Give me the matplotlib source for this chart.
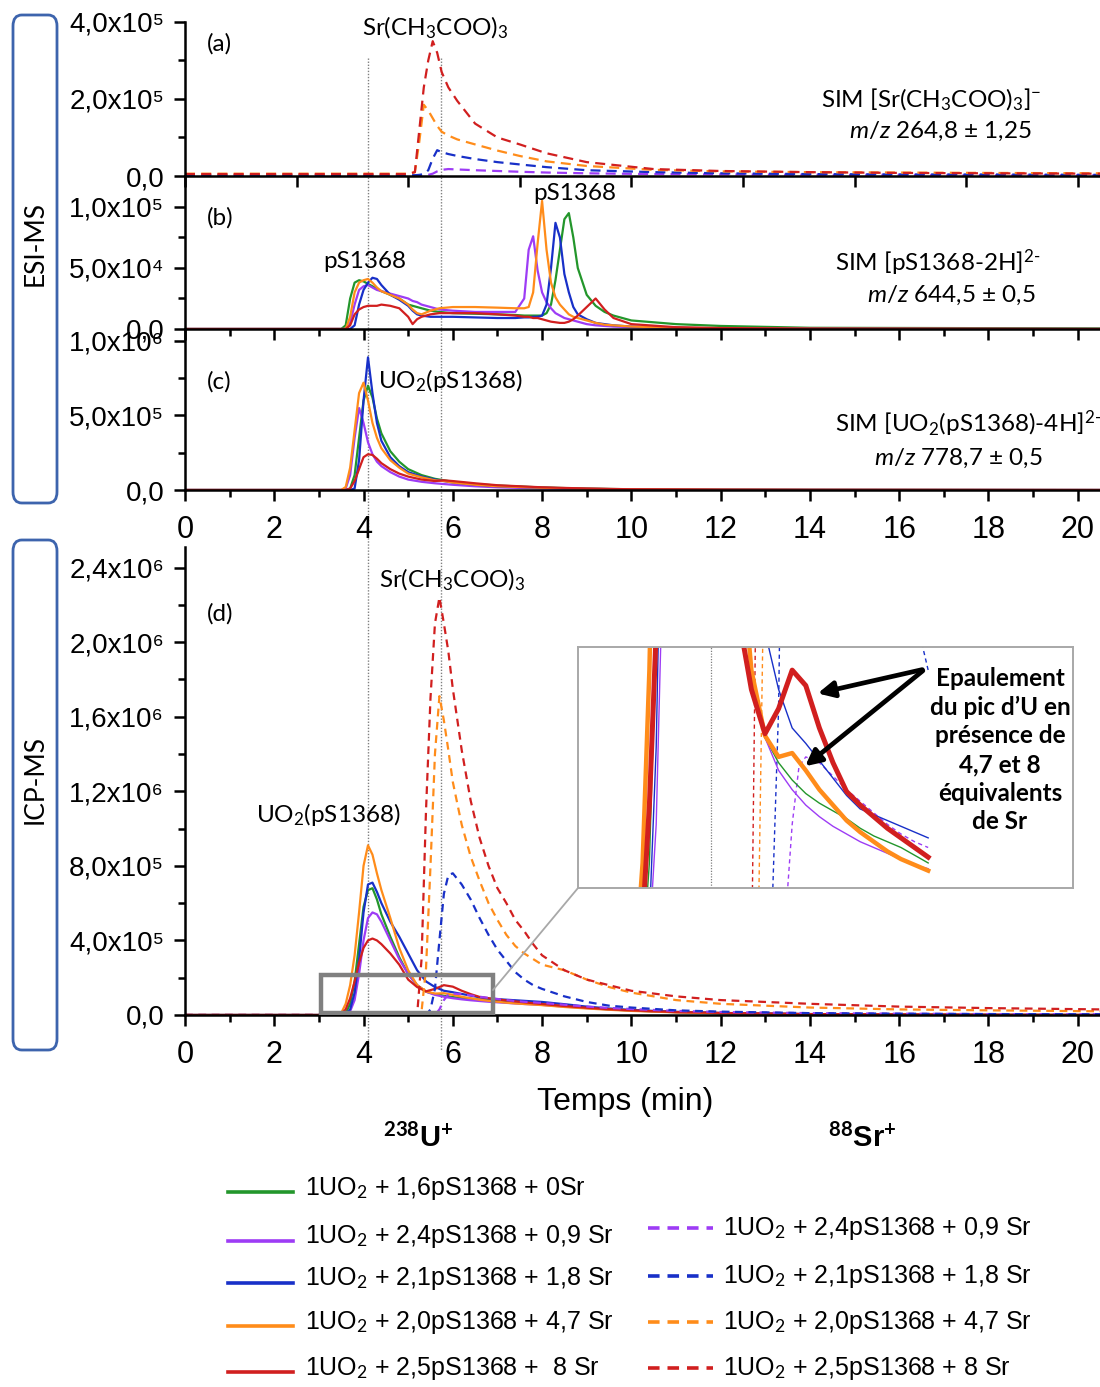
import numpy as np
import matplotlib
matplotlib.use("Agg")
import matplotlib.pyplot as plt
from matplotlib.lines import Line2D
from matplotlib.patches import FancyBboxPatch, Rectangle, ConnectionPatch, FancyArrowPatch
import matplotlib.transforms as mtransforms

plt.rcParams['mathtext.fontset'] = 'custom'
plt.rcParams['mathtext.rm'] = 'Lato'
plt.rcParams['mathtext.it'] = 'Lato:italic'
plt.rcParams['mathtext.bf'] = 'Lato:bold'

# ---------------------------------------------------------------- data
# (a) ESI-MS SIM [Sr(CH3COO)3]-  (units of 1e5)
t_a = [0, 5.0, 5.15, 5.25, 5.35, 5.45, 5.55, 5.65, 5.75, 5.9, 6.1, 6.5, 7.0, 7.5,
       8.1, 9.0, 10.5, 12, 14, 16, 18, 20.5]
a_purple = [0.01, 0.01, 0.01, 0.01, 0.02, 0.03, 0.06, 0.12, 0.16, 0.18, 0.17, 0.15,
            0.13, 0.11, 0.09, 0.07, 0.05, 0.04, 0.03, 0.03, 0.02, 0.02]
a_blue = [0.02, 0.02, 0.02, 0.03, 0.05, 0.15, 0.45, 0.67, 0.62, 0.57, 0.52, 0.44,
          0.36, 0.3, 0.23, 0.15, 0.1, 0.07, 0.05, 0.04, 0.04, 0.03]
a_orange = [0.06, 0.06, 0.1, 0.9, 1.85, 1.7, 1.5, 1.3, 1.15, 1.05, 0.95, 0.82,
            0.66, 0.52, 0.38, 0.26, 0.16, 0.12, 0.1, 0.09, 0.08, 0.07]
a_red = [0.05, 0.05, 0.1, 1.2, 2.3, 3.0, 3.5, 3.2, 2.7, 2.3, 1.95, 1.36,
         1.0, 0.82, 0.59, 0.36, 0.18, 0.13, 0.1, 0.08, 0.07, 0.06]

# (b) ESI-MS SIM [pS1368-2H]2-  (units of 1e4)
t_b = [0, 3.5, 3.6, 3.7, 3.8, 3.9, 4.0, 4.1, 4.2, 4.3, 4.4, 4.6, 4.8, 5.0, 5.1, 5.2,
       5.3, 5.5, 5.7, 6.0, 6.5, 7.0, 7.4, 7.6, 7.7, 7.8, 7.9, 8.0, 8.1, 8.2, 8.3,
       8.4, 8.5, 8.6, 8.7, 8.8, 9.0, 9.2, 9.4, 9.6, 10, 11, 12, 14, 20.5]
b_green = [0, 0, 0.3, 2.5, 3.8, 4.0, 3.9, 3.7, 3.5, 3.3, 3.1, 2.8, 2.5, 2.0, 1.9, 1.8,
           1.7, 1.5, 1.4, 1.3, 1.25, 1.2, 1.15, 1.1, 1.1, 1.1, 1.1, 1.1, 1.3, 2.0, 4.0,
           6.5, 9.0, 9.5, 7.5, 5.0, 2.8, 1.9, 1.4, 1.1, 0.7, 0.4, 0.25, 0.1, 0.05]
b_purple = [0, 0, 0, 0.5, 2.0, 3.2, 3.5, 3.6, 3.4, 3.2, 3.1, 2.9, 2.7, 2.5, 2.3, 2.2,
            2.0, 1.8, 1.6, 1.5, 1.4, 1.4, 1.4, 2.5, 6.5, 7.6, 4.8, 3.0, 2.2, 1.7, 1.3,
            1.1, 0.9, 0.8, 0.7, 0.6, 0.4, 0.3, 0.25, 0.2, 0.15, 0.08, 0.05, 0.02, 0]
b_blue = [0, 0, 0, 0, 0.3, 2.0, 3.2, 3.8, 4.2, 4.1, 3.6, 2.8, 2.4, 1.9, 1.5, 1.2,
          1.1, 1.0, 1.0, 1.0, 0.95, 0.9, 0.9, 0.95, 0.95, 1.0, 1.0, 1.1, 2.0, 5.0, 8.7,
          7.5, 4.5, 3.0, 1.8, 1.2, 0.8, 0.5, 0.4, 0.3, 0.2, 0.1, 0.05, 0.02, 0]
b_orange = [0, 0, 0, 1.0, 3.0, 3.8, 4.0, 4.1, 3.8, 3.4, 3.1, 2.8, 2.5, 2.0, 1.6, 1.3,
            1.2, 1.5, 1.7, 1.8, 1.8, 1.75, 1.7, 1.7, 1.8, 3.0, 7.0, 10.5, 6.5, 3.8, 2.6,
            2.0, 1.6, 1.2, 1.0, 0.9, 0.7, 0.5, 0.35, 0.3, 0.2, 0.1, 0.05, 0.02, 0]
b_red = [0, 0, 0, 0.3, 1.2, 1.6, 1.8, 1.9, 1.9, 1.9, 2.0, 1.9, 1.7, 1.0, 0.4, 0.8,
         1.0, 1.2, 1.3, 1.3, 1.3, 1.2, 1.1, 1.0, 1.0, 0.9, 0.9, 0.8, 0.7, 0.6, 0.55,
         0.5, 0.5, 0.6, 0.8, 1.1, 1.8, 2.5, 1.6, 0.9, 0.4, 0.15, 0.08, 0.03, 0]

# (c) ESI-MS SIM [UO2(pS1368)-4H]2-  (units of 1e5)
t_c = [0, 3.5, 3.6, 3.7, 3.8, 3.9, 4.0, 4.1, 4.2, 4.3, 4.4, 4.6, 4.8, 5.0, 5.3, 5.6,
       5.8, 6.0, 6.5, 7.0, 8.0, 9.0, 10, 12, 14, 20.5]
c_green = [0, 0, 0, 0.1, 1.0, 3.5, 6.0, 7.0, 6.2, 4.8, 3.8, 2.6, 1.9, 1.4, 1.0, 0.75,
           0.65, 0.55, 0.4, 0.3, 0.17, 0.09, 0.05, 0.02, 0.01, 0]
c_purple = [0, 0, 0.1, 1.0, 3.5, 5.5, 4.5, 3.2, 2.4, 1.9, 1.6, 1.2, 0.9, 0.7, 0.55,
            0.45, 0.4, 0.35, 0.25, 0.18, 0.1, 0.06, 0.03, 0.01, 0.005, 0]
c_blue = [0, 0, 0, 0, 0.1, 2.0, 6.0, 8.9, 6.5, 4.5, 3.3, 2.2, 1.6, 1.2, 0.9, 0.7,
          0.6, 0.5, 0.35, 0.25, 0.15, 0.08, 0.04, 0.02, 0.01, 0]
c_orange = [0, 0, 0.2, 1.5, 4.0, 6.5, 7.2, 6.0, 4.5, 3.5, 2.8, 2.0, 1.5, 1.1, 0.85,
            0.65, 0.6, 0.5, 0.35, 0.25, 0.15, 0.08, 0.04, 0.02, 0.01, 0]
c_red = [0, 0, 0, 0.1, 0.6, 1.4, 2.2, 2.4, 2.35, 2.1, 1.8, 1.4, 1.1, 0.9, 0.7, 0.6,
         0.65, 0.6, 0.45, 0.32, 0.18, 0.1, 0.05, 0.02, 0.01, 0]

# (d) ICP-MS 238U+ (solid, units of 1e6)
t_u = [0, 3.0, 3.4, 3.5, 3.6, 3.7, 3.8, 3.9, 4.0, 4.1, 4.2, 4.3, 4.4, 4.6, 4.8, 5.0,
       5.2, 5.4, 5.6, 5.8, 6.0, 6.2, 6.4, 6.6, 6.8, 7.0, 7.2, 7.4, 7.6, 7.8, 8.0,
       8.5, 9.0, 9.5, 10, 11, 12, 14, 16, 18, 20.5]
u_green = [0, 0, 0, 0, 0.01, 0.06, 0.18, 0.38, 0.58, 0.67, 0.68, 0.62, 0.54, 0.42,
           0.31, 0.22, 0.16, 0.125, 0.112, 0.103, 0.096, 0.091, 0.087, 0.083, 0.078,
           0.074, 0.071, 0.068, 0.064, 0.06, 0.057, 0.047, 0.038, 0.03, 0.024, 0.015,
           0.01, 0.004, 0.002, 0.001, 0]
u_purple = [0, 0, 0, 0, 0, 0.02, 0.08, 0.22, 0.40, 0.52, 0.55, 0.54, 0.50, 0.40,
            0.30, 0.22, 0.16, 0.125, 0.108, 0.098, 0.09, 0.084, 0.079, 0.075, 0.071,
            0.068, 0.065, 0.062, 0.059, 0.057, 0.054, 0.045, 0.037, 0.03, 0.024,
            0.015, 0.01, 0.004, 0.002, 0.001, 0]
u_blue = [0, 0, 0, 0, 0.005, 0.03, 0.12, 0.30, 0.55, 0.70, 0.71, 0.66, 0.60, 0.50,
          0.42, 0.33, 0.24, 0.18, 0.15, 0.13, 0.122, 0.113, 0.104, 0.095, 0.088,
          0.085, 0.082, 0.079, 0.076, 0.073, 0.07, 0.058, 0.045, 0.035, 0.027, 0.017,
          0.011, 0.005, 0.003, 0.001, 0]
u_orange = [0, 0, 0, 0.01, 0.06, 0.16, 0.32, 0.55, 0.80, 0.91, 0.86, 0.76, 0.67,
            0.52, 0.36, 0.24, 0.16, 0.126, 0.115, 0.117, 0.108, 0.098, 0.09, 0.082,
            0.076, 0.071, 0.066, 0.062, 0.059, 0.056, 0.053, 0.043, 0.035, 0.028,
            0.022, 0.014, 0.009, 0.004, 0.002, 0.001, 0]
u_red = [0, 0, 0, 0.005, 0.03, 0.09, 0.18, 0.28, 0.36, 0.40, 0.41, 0.40, 0.38, 0.33,
         0.27, 0.19, 0.15, 0.127, 0.14, 0.16, 0.152, 0.13, 0.112, 0.097, 0.09, 0.084,
         0.078, 0.073, 0.068, 0.063, 0.059, 0.048, 0.039, 0.031, 0.025, 0.016, 0.011,
         0.005, 0.003, 0.001, 0]

# (d) ICP-MS 88Sr+ (dashed, units of 1e6)
t_s = [0, 5.0, 5.2, 5.3, 5.4, 5.5, 5.6, 5.7, 5.8, 5.9, 6.0, 6.2, 6.4, 6.6, 6.8, 7.0,
       7.2, 7.4, 7.6, 7.8, 8.0, 8.5, 9.0, 9.5, 10, 11, 12, 14, 16, 18, 20.5]
s_purple = [0, 0, 0, 0, 0, 0, 0.0, 0.03, 0.08, 0.11, 0.115, 0.112, 0.105, 0.098,
            0.092, 0.086, 0.08, 0.075, 0.071, 0.068, 0.065, 0.055, 0.045, 0.038,
            0.032, 0.022, 0.016, 0.01, 0.007, 0.005, 0.004]
s_blue = [0, 0, 0, 0, 0, 0.03, 0.14, 0.4, 0.65, 0.75, 0.76, 0.7, 0.62, 0.52, 0.43,
          0.35, 0.29, 0.23, 0.19, 0.16, 0.14, 0.1, 0.07, 0.05, 0.04, 0.025, 0.018,
          0.01, 0.007, 0.005, 0.004]
s_orange = [0, 0, 0, 0.02, 0.25, 0.8, 1.4, 1.71, 1.58, 1.42, 1.25, 1.02, 0.85, 0.72,
            0.6, 0.51, 0.43, 0.37, 0.33, 0.30, 0.27, 0.24, 0.19, 0.15, 0.12, 0.08,
            0.06, 0.04, 0.03, 0.025, 0.02]
s_red = [0, 0, 0, 0.3, 1.1, 1.7, 2.1, 2.24, 2.1, 1.95, 1.75, 1.42, 1.15, 0.95, 0.8,
         0.68, 0.6, 0.51, 0.45, 0.38, 0.32, 0.24, 0.19, 0.16, 0.13, 0.1, 0.08, 0.06,
         0.045, 0.037, 0.03]

labels_U = ['1UO$_2$ + 1,6pS1368 + 0Sr',
            '1UO$_2$ + 2,4pS1368 + 0,9 Sr',
            '1UO$_2$ + 2,1pS1368 + 1,8 Sr',
            '1UO$_2$ + 2,0pS1368 + 4,7 Sr',
            '1UO$_2$ + 2,5pS1368 +  8 Sr']
labels_Sr = ['1UO$_2$ + 2,4pS1368 + 0,9 Sr',
             '1UO$_2$ + 2,1pS1368 + 1,8 Sr',
             '1UO$_2$ + 2,0pS1368 + 4,7 Sr',
             '1UO$_2$ + 2,5pS1368 + 8 Sr']

yt_a = [0, 2e5, 4e5]
yl_a = ['0,0', '2,0x10⁵', '4,0x10⁵']
yt_b = [0, 5e4, 1e5]
yl_b = ['0,0', '5,0x10⁴', '1,0x10⁵']
yt_c = [0, 5e5, 1e6]
yl_c = ['0,0', '5,0x10⁵', '1,0x10⁶']
yt_d = [0, 4e5, 8e5, 1.2e6, 1.6e6, 2.0e6, 2.4e6]
yl_d = ['0,0', '4,0x10⁵', '8,0x10⁵', '1,2x10⁶', '1,6x10⁶', '2,0x10⁶', '2,4x10⁶']
x_major = [0, 2, 4, 6, 8, 10, 12, 14, 16, 18, 20]

# ---------------------------------------------------------------- style
GREEN, PURPLE, BLUE, ORANGE, RED = '#23962b', '#9d3cf5', '#1830c8', '#ff8c1a', '#d11f1f'
TICKF = ['Liberation Sans', 'DejaVu Sans']
ANNF = ['Lato', 'DejaVu Sans']
LEGF = ['Liberation Sans', 'DejaVu Sans']
XMAX = 20.5

W, H = 1100, 1387
fig = plt.figure(figsize=(W / 100, H / 100), dpi=100)


def box(l, t, r, b):
    return [l / W, 1 - b / H, (r - l) / W, (b - t) / H]


def fx(x):
    return x / W


def fy(y):
    return 1 - y / H


def style(ax, ytk, ylb, ylim, yminor, xmaj, xmin, xlabels):
    ax.set_facecolor('none')
    for s in ('top', 'right'):
        ax.spines[s].set_visible(False)
    for s in ('left', 'bottom'):
        ax.spines[s].set_linewidth(1.8)
    ax.set_yticks(ytk)
    ax.set_yticklabels(ylb, fontfamily=TICKF, fontsize=20)
    ax.set_yticks(yminor, minor=True)
    ax.set_xticks(xmaj)
    if xmin is not None:
        ax.set_xticks(xmin, minor=True)
    if xlabels:
        ax.set_xticklabels([str(int(v)) for v in xmaj], fontfamily=TICKF, fontsize=22)
    else:
        ax.set_xticklabels([])
    ax.tick_params(which='major', direction='out', length=8, width=1.8)
    ax.tick_params(which='minor', direction='out', length=5, width=1.8)
    ax.tick_params(axis='y', which='major', pad=7)
    ax.tick_params(axis='x', which='major', pad=10)
    ax.set_xlim(0, XMAX)
    ax.set_ylim(*ylim)


ax_a = fig.add_axes(box(185, 15, 1100, 176))
ax_b = fig.add_axes(box(185, 176, 1100, 329))
ax_c = fig.add_axes(box(185, 329, 1100, 490))
ax_d = fig.add_axes(box(185, 547, 1100, 1015))

minor_x = [1, 3, 5, 7, 9, 11, 13, 15, 17, 19]
style(ax_a, yt_a, yl_a, (0, 4.18e5), [1e5, 3e5], list(np.arange(0, 20.6, 2.5)), None, False)
ax_a.spines['left'].set_bounds(0, 4e5)
style(ax_b, yt_b, yl_b, (0, 1.254e5), [2.5e4, 7.5e4], x_major, minor_x, False)
style(ax_c, yt_c, yl_c, (0, 1.08e6), [2.5e5, 7.5e5], x_major, minor_x, True)
style(ax_d, yt_d, yl_d, (0, 2.51e6), [2e5, 6e5, 1.0e6, 1.4e6, 1.8e6, 2.2e6], x_major, minor_x, True)

# (a)
dash_a = (4.5, 2.8)
for y, c in zip([a_purple, a_blue, a_orange, a_red], [PURPLE, BLUE, ORANGE, RED]):
    ax_a.plot(t_a, np.array(y) * 1e5, color=c, lw=1.6, dashes=dash_a)
# (b)
for y, c in zip([b_green, b_purple, b_blue, b_orange, b_red], [GREEN, PURPLE, BLUE, ORANGE, RED]):
    ax_b.plot(t_b, np.array(y) * 1e4, color=c, lw=1.6)
# (c)
for y, c in zip([c_green, c_purple, c_blue, c_orange, c_red], [GREEN, PURPLE, BLUE, ORANGE, RED]):
    ax_c.plot(t_c, np.array(y) * 1e5, color=c, lw=1.6)
# (d)
u_series = [u_green, u_purple, u_blue, u_orange, u_red]
u_cols = [GREEN, PURPLE, BLUE, ORANGE, RED]
s_series = [s_purple, s_blue, s_orange, s_red]
s_cols = [PURPLE, BLUE, ORANGE, RED]
dash_d = (3.5, 2.5)
for y, c in zip(u_series, u_cols):
    ax_d.plot(t_u, np.array(y) * 1e6, color=c, lw=1.6)
for y, c in zip(s_series, s_cols):
    ax_d.plot(t_s, np.array(y) * 1e6, color=c, lw=1.6, dashes=dash_d)

# vertical dotted reference lines (4.1 and 5.73 min)
trans = mtransforms.blended_transform_factory(ax_d.transData, fig.transFigure)
for xv in (4.1, 5.73):
    fig.add_artist(Line2D([xv, xv], [fy(58), fy(1050)], transform=trans,
                          color='#808080', lw=1.0, ls=(0, (1, 1.2)), zorder=0))

# zoom rectangle + inset
ax_d.add_patch(Rectangle((3.05, 0.01e6), 6.9 - 3.05, 0.205e6, fill=False,
                         ec='#808080', lw=3.2, zorder=6))
ax_in = fig.add_axes(box(578, 647, 1073, 888))
ax_in.set_facecolor('white')
ax_in.set_xlim(2.65, 9.93)
ax_in.set_ylim(0.047e6, 0.172e6)
ax_in.set_xticks([])
ax_in.set_yticks([])
for s in ax_in.spines.values():
    s.set_color('#a8a8a8')
    s.set_linewidth(1.4)
ax_in.axvline(4.6, color='#808080', lw=0.9, ls=(0, (1, 1.2)))
tu = np.array(t_u)
ts = np.array(t_s)
mu = tu <= 7.95
ms = ts <= 7.95
for y, c in zip(s_series, s_cols):
    ax_in.plot(ts[ms], np.array(y)[ms] * 1e6, color=c, lw=1.0, dashes=(3, 2.5))
u_lw = [1.0, 1.0, 1.0, 3.2, 3.6]
for y, c, lw in zip(u_series, u_cols, u_lw):
    ax_in.plot(tu[mu], np.array(y)[mu] * 1e6, color=c, lw=lw)
con = ConnectionPatch(xyA=(6.9, 1.34e5), coordsA=ax_d.transData,
                      xyB=(0, 0), coordsB=ax_in.transAxes,
                      color='#a8a8a8', lw=1.3)
fig.add_artist(con)

fig.text(fx(1000), fy(750), "Epaulement\ndu pic d\u2019U en\nprésence de\n4,7 et 8\néquivalents\nde Sr",
         ha='center', va='center', fontfamily=ANNF, fontweight='bold', fontsize=17.5,
         linespacing=1.3)
for head in [(815, 694), (803, 768)]:
    fig.add_artist(FancyArrowPatch(
        (fx(925), fy(669)), (fx(head[0]), fy(head[1])), transform=fig.transFigure,
        arrowstyle='-|>', mutation_scale=24, lw=3.4, color='black'))

# ---------------------------------------------------------------- annotations
AF = dict(fontfamily=ANNF, fontsize=17.5)
fig.text(fx(207), fy(44), '(a)', va='center', ha='left', **AF)
fig.text(fx(435), fy(28), 'Sr(CH$_3$COO)$_3$', va='center', ha='center', **AF)
fig.text(fx(931), fy(100), 'SIM [Sr(CH$_3$COO)$_3$]$^{-}$', va='center', ha='center', **AF)
fig.text(fx(940), fy(131), '$\\it{m/z}$ 264,8 ± 1,25', va='center', ha='center', **AF)
fig.text(fx(207), fy(218), '(b)', va='center', ha='left', **AF)
fig.text(fx(575), fy(193), 'pS1368', va='center', ha='center', **AF)
fig.text(fx(365), fy(261), 'pS1368', va='center', ha='center', **AF)
fig.text(fx(938), fy(263), 'SIM [pS1368-2H]$^{2\\text{-}}$', va='center', ha='center', **AF)
fig.text(fx(951), fy(295), '$\\it{m/z}$ 644,5 ± 0,5', va='center', ha='center', **AF)
fig.text(fx(207), fy(382), '(c)', va='center', ha='left', **AF)
fig.text(fx(450), fy(380), 'UO$_2$(pS1368)', va='center', ha='center', **AF)
fig.text(fx(968), fy(424), 'SIM [UO$_2$(pS1368)-4H]$^{2\\text{-}}$', va='center', ha='center', **AF)
fig.text(fx(958), fy(458), '$\\it{m/z}$ 778,7 ± 0,5', va='center', ha='center', **AF)
fig.text(fx(207), fy(614), '(d)', va='center', ha='left', **AF)
fig.text(fx(452), fy(580), 'Sr(CH$_3$COO)$_3$', va='center', ha='center', **AF)
fig.text(fx(328), fy(815), 'UO$_2$(pS1368)', va='center', ha='center', **AF)

fig.text(fx(625), fy(1102), 'Temps (min)', ha='center', va='center',
         fontfamily=TICKF, fontsize=23)

# left rounded label boxes
for (t, b, lab, yc) in [(15, 503, 'ESI-MS', 243), (540, 1050, 'ICP-MS', 780)]:
    fig.add_artist(FancyBboxPatch((fx(13), fy(b)), (57 - 13) / W, (b - t) / H,
                                  boxstyle='round,pad=0,rounding_size=0.008',
                                  transform=fig.transFigure, fill=False,
                                  ec='#3d64ad', lw=2.0))
    fig.text(fx(35), fy(yc), lab, rotation=90, ha='center', va='center',
             fontfamily=ANNF, fontsize=19)

# ---------------------------------------------------------------- legend
fig.text(fx(418), fy(1138), '$^{\\mathbf{238}}$U$^{\\mathbf{+}}$', ha='center', va='center',
         fontfamily=LEGF, fontweight='bold', fontsize=21)
fig.text(fx(862), fy(1138), '$^{\\mathbf{88}}$Sr$^{\\mathbf{+}}$', ha='center', va='center',
         fontfamily=LEGF, fontweight='bold', fontsize=21)
rows_left = [1188, 1237, 1279, 1322, 1368]
rows_right = [1228, 1276, 1322, 1368]
LF = dict(fontfamily=LEGF, fontsize=18, va='center', ha='left')
for lab, c, y in zip(labels_U, u_cols, rows_left):
    fig.add_artist(Line2D([fx(228), fx(293)], [fy(y + 4), fy(y + 4)], color=c, lw=2.6))
    fig.text(fx(305), fy(y), lab, **LF)
for lab, c, y in zip(labels_Sr, s_cols, rows_right):
    fig.add_artist(Line2D([fx(648), fx(713)], [fy(y), fy(y)], color=c, lw=2.6,
                          dashes=(3.2, 2.2)))
    fig.text(fx(723), fy(y), lab, **LF)

fig.savefig('out.png', dpi=100)
